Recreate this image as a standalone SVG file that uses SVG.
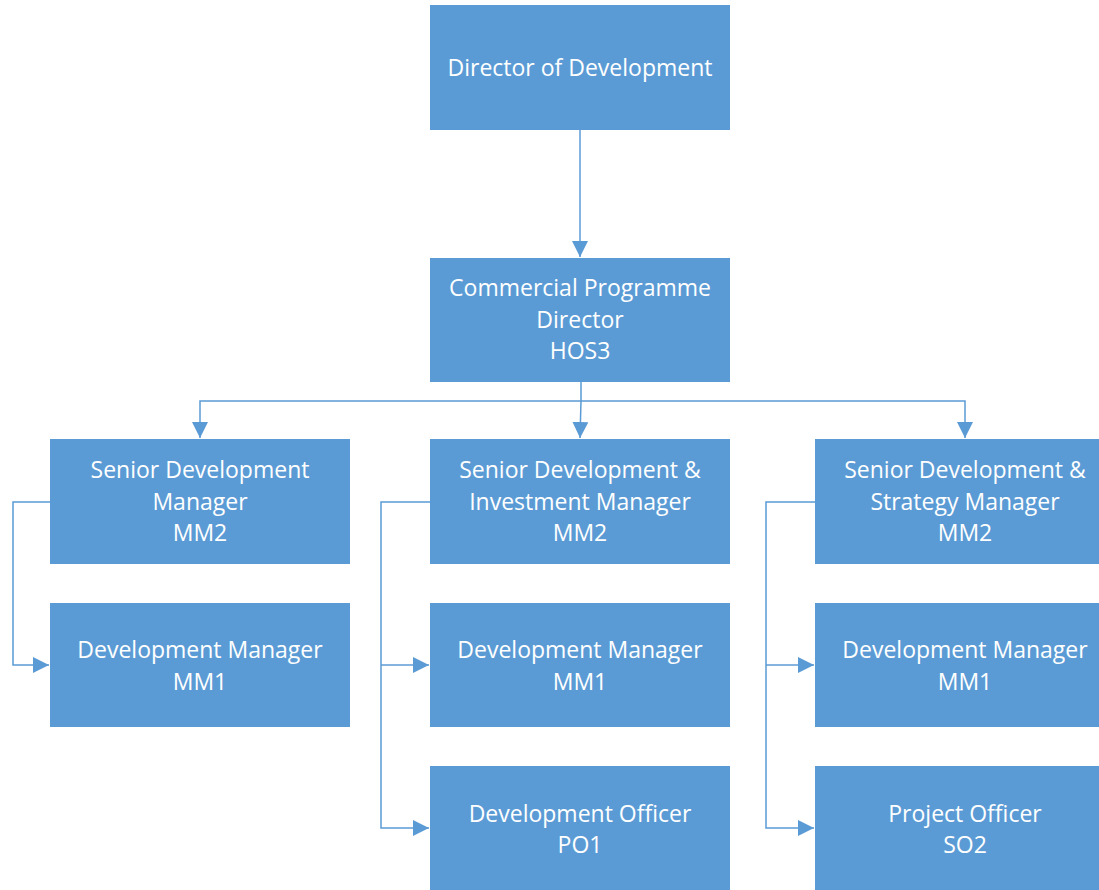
<svg xmlns="http://www.w3.org/2000/svg" width="1099" height="890" viewBox="0 0 1099 890">
<style>
.box{fill:#5B9BD5}
.t{font-family:"Open Sans","Liberation Sans",sans-serif;font-size:23px;fill:#fff;text-anchor:middle}
.c{fill:none;stroke:#5B9BD5;stroke-width:1.5}
</style>
<defs>
<marker id="arrL" markerWidth="16" markerHeight="16" refX="16" refY="8" orient="auto" markerUnits="userSpaceOnUse" viewBox="0 0 16 16">
<path d="M0,0 L16,8 L0,16 Z" fill="#5B9BD5"/>
</marker>
</defs>
<rect width="1099" height="890" fill="#fff"/>
<g id="connectors">
<path class="c" d="M580,130 V257" marker-end="url(#arrL)"/>
<path class="c" d="M581,382 V401 H200 V438" marker-end="url(#arrL)"/>
<path class="c" d="M581,401 L580,438" marker-end="url(#arrL)"/>
<path class="c" d="M581,401 H965 V438" marker-end="url(#arrL)"/>
<path class="c" d="M50,502 H13 V665 H49" marker-end="url(#arrL)"/>
<path class="c" d="M430,502 H381 V828 H429" marker-end="url(#arrL)"/>
<path class="c" d="M381,665 H429" marker-end="url(#arrL)"/>
<path class="c" d="M815,502 H766 V828 H814" marker-end="url(#arrL)"/>
<path class="c" d="M766,665 H814" marker-end="url(#arrL)"/>
</g>
<g id="director">
<rect class="box" x="430" y="5" width="300" height="125"/>
<text class="t" x="580" y="76">Director of Development</text>
</g>
<g id="cpd">
<rect class="box" x="430" y="258" width="300" height="124"/>
<text class="t" x="580" y="296">Commercial Programme</text>
<text class="t" x="580" y="328">Director</text>
<text class="t" x="580" y="359">HOS3</text>
</g>
<g id="sdm">
<rect class="box" x="50" y="439" width="300" height="125"/>
<text class="t" x="200" y="478">Senior Development</text>
<text class="t" x="200" y="510">Manager</text>
<text class="t" x="200" y="541">MM2</text>
</g>
<g id="sdim">
<rect class="box" x="430" y="439" width="300" height="125"/>
<text class="t" x="580" y="478">Senior Development &amp;</text>
<text class="t" x="580" y="510">Investment Manager</text>
<text class="t" x="580" y="541">MM2</text>
</g>
<g id="sdsm">
<rect class="box" x="815" y="439" width="300" height="125"/>
<text class="t" x="965" y="478">Senior Development &amp;</text>
<text class="t" x="965" y="510">Strategy Manager</text>
<text class="t" x="965" y="541">MM2</text>
</g>
<g id="dm1">
<rect class="box" x="50" y="603" width="300" height="124"/>
<text class="t" x="200" y="658">Development Manager</text>
<text class="t" x="200" y="690">MM1</text>
</g>
<g id="dm2">
<rect class="box" x="430" y="603" width="300" height="124"/>
<text class="t" x="580" y="658">Development Manager</text>
<text class="t" x="580" y="690">MM1</text>
</g>
<g id="dm3">
<rect class="box" x="815" y="603" width="300" height="124"/>
<text class="t" x="965" y="658">Development Manager</text>
<text class="t" x="965" y="690">MM1</text>
</g>
<g id="do">
<rect class="box" x="430" y="766" width="300" height="130"/>
<text class="t" x="580" y="822">Development Officer</text>
<text class="t" x="580" y="853">PO1</text>
</g>
<g id="po">
<rect class="box" x="815" y="766" width="300" height="130"/>
<text class="t" x="965" y="822">Project Officer</text>
<text class="t" x="965" y="853">SO2</text>
</g>
</svg>
